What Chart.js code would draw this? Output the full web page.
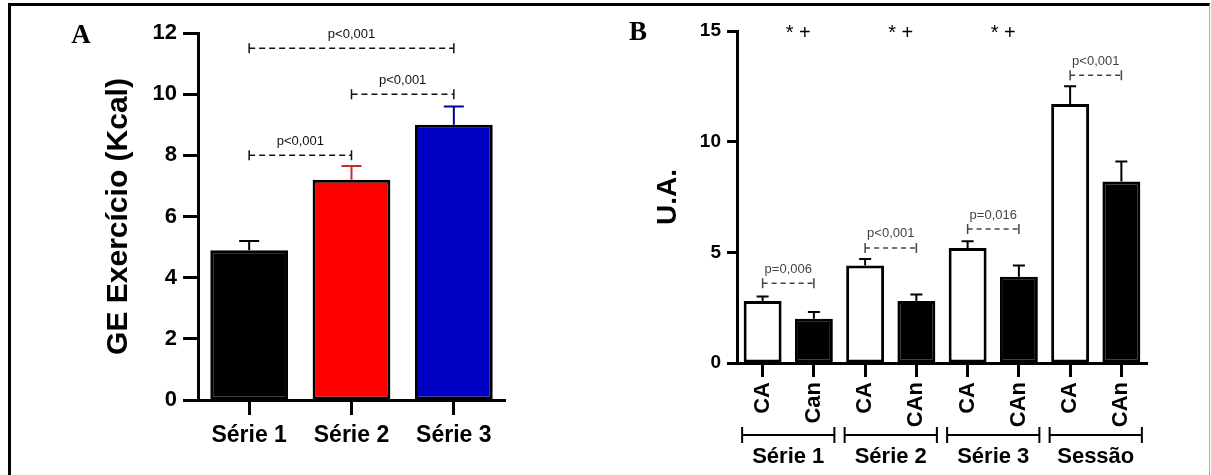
<!DOCTYPE html>
<html><head><meta charset="utf-8">
<script src="https://cdn.jsdelivr.net/npm/chart.js@4.4.1/dist/chart.umd.min.js"></script>
<style>
html,body{margin:0;padding:0;background:#fff;width:1211px;height:475px;overflow:hidden;}
#frame{position:absolute;left:8px;top:3px;width:1202px;height:472px;border-top:3px solid #000;border-left:3px solid #000;border-right:1px solid #aaa;box-sizing:border-box;}
#cA{position:absolute;left:0;top:0;}
#cB{position:absolute;left:600px;top:0;}
</style></head><body>
<div id="frame"></div>
<canvas id="cA" width="600" height="475"></canvas>
<canvas id="cB" width="611" height="475"></canvas>
<script>
// ---- Panel A data ----
const categoriesA = ['Série 1', 'Série 2', 'Série 3'];
const valuesA = [4.9, 7.2, 9.0];
const errorsA = [0.3, 0.45, 0.6];
const yTicksA = [0, 2, 4, 6, 8, 10, 12];
const bracketFromA = [0, 1, 0];
const bracketToA = [2, 2, 1];
const bracketLevelA = [11.5, 10, 8];
const bracketTextA = ['p<0,001', 'p<0,001', 'p<0,001'];

// ---- Panel B data ----
const barLabelsB = ['CA', 'Can', 'CA', 'CAn', 'CA', 'CAn', 'CA', 'CAn'];
const groupsB = ['Série 1', 'Série 2', 'Série 3', 'Sessão'];
const valuesCA = [2.8, 4.4, 5.2, 11.7];
const errorsCA = [0.2, 0.3, 0.3, 0.8];
const valuesCAn = [2.0, 2.8, 3.9, 8.2];
const errorsCAn = [0.3, 0.3, 0.5, 0.9];
const yTicksB = [0, 5, 10, 15];
const bracketLevelB = [3.6, 5.2, 6.05, 13.0];
const bracketTextB = ['p=0,006', 'p<0,001', 'p=0,016', 'p<0,001'];
const markTextB = ['* +', '* +', '* +', ''];

const FONT = "'Liberation Sans', Arial, sans-serif";

function errorBars(errs, colors, capW) {
  return {
    id: 'errbars',
    afterDatasetsDraw(chart) {
      const ctx = chart.ctx, y = chart.scales.y;
      const meta = chart.getDatasetMeta(0);
      const data = chart.data.datasets[0].data;
      meta.data.forEach((bar, i) => {
        const top = y.getPixelForValue(data[i] + errs[i]);
        ctx.save();
        ctx.strokeStyle = colors[i];
        ctx.lineWidth = 2;
        ctx.beginPath();
        ctx.moveTo(bar.x, bar.y);
        ctx.lineTo(bar.x, top);
        ctx.moveTo(bar.x - capW / 2, top);
        ctx.lineTo(bar.x + capW / 2, top);
        ctx.stroke();
        ctx.restore();
      });
    }
  };
}

function drawBracket(ctx, x1, x2, yy, text, color, dash) {
  ctx.save();
  ctx.strokeStyle = color;
  ctx.fillStyle = color;
  ctx.lineWidth = 1.5;
  ctx.setLineDash(dash);
  ctx.beginPath();
  ctx.moveTo(x1, yy); ctx.lineTo(x2, yy);
  ctx.stroke();
  ctx.setLineDash([]);
  ctx.beginPath();
  ctx.moveTo(x1, yy - 5); ctx.lineTo(x1, yy + 5);
  ctx.moveTo(x2, yy - 5); ctx.lineTo(x2, yy + 5);
  ctx.stroke();
  ctx.font = '13px ' + FONT;
  ctx.textAlign = 'center';
  ctx.textBaseline = 'middle';
  ctx.fillText(text, (x1 + x2) / 2, yy - 14);
  ctx.restore();
}

const fixTicks = (arr) => (scale) => { scale.ticks = arr.map(v => ({ value: v })); };

// ---------------- Chart A ----------------
new Chart(document.getElementById('cA'), {
  type: 'bar',
  data: {
    labels: categoriesA,
    datasets: [{
      data: valuesA,
      backgroundColor: ['#000000', '#ff0000', '#0000c4'],
      borderColor: '#000',
      borderWidth: 3,
      borderSkipped: false,
      barPercentage: 0.76,
      categoryPercentage: 1.0
    }]
  },
  options: {
    responsive: false,
    animation: false,
    events: [],
    layout: { padding: { left: 97, right: 95, top: 33, bottom: 0 } },
    plugins: { legend: { display: false }, tooltip: { enabled: false } },
    scales: {
      x: {
        offset: true,
        grid: { display: true, drawOnChartArea: false, drawTicks: true, offset: false, tickLength: 15, tickWidth: 3, tickColor: '#000' },
        border: { display: true, width: 3, color: '#000' },
        ticks: { color: '#000', font: { family: FONT, size: 23, weight: 'bold' }, padding: 7 },
        afterFit: (s) => { s.height = 75; }
      },
      y: {
        min: 0, max: 12,
        afterBuildTicks: fixTicks(yTicksA),
        grid: { display: true, drawOnChartArea: false, drawTicks: true, tickLength: 15, tickWidth: 3, tickColor: '#000' },
        border: { display: true, width: 3, color: '#000' },
        ticks: { color: '#000', font: { family: FONT, size: 22, weight: 'bold' }, padding: 6 },
        title: { display: true, text: 'GE Exercício (Kcal)', color: '#000', font: { family: FONT, size: 30, weight: 'bold' }, padding: { top: 4, bottom: 4 } },
        afterFit: (s) => { s.width = 101; }
      }
    }
  },
  plugins: [
    errorBars(errorsA, ['#000000', '#cc2a2a', '#00009a'], 20),
    {
      id: 'annA',
      afterDraw(chart) {
        const ctx = chart.ctx, x = chart.scales.x, y = chart.scales.y;
        for (let i = 0; i < bracketTextA.length; i++) {
          drawBracket(ctx, x.getPixelForValue(bracketFromA[i]), x.getPixelForValue(bracketToA[i]),
            y.getPixelForValue(bracketLevelA[i]), bracketTextA[i], '#111', [6, 4]);
        }
        ctx.save();
        ctx.font = "bold 27px 'Liberation Serif', 'Times New Roman', serif";
        ctx.fillStyle = '#000';
        ctx.textAlign = 'center';
        ctx.textBaseline = 'middle';
        ctx.fillText('A', 81, 36);
        ctx.restore();
      }
    }
  ]
});

// ---------------- Chart B ----------------
const valuesB = [], errorsB = [], fillB = [];
valuesCA.forEach((v, i) => {
  valuesB.push(valuesCA[i], valuesCAn[i]);
  errorsB.push(errorsCA[i], errorsCAn[i]);
  fillB.push('#ffffff', '#000000');
});

new Chart(document.getElementById('cB'), {
  type: 'bar',
  data: {
    labels: barLabelsB,
    datasets: [{
      data: valuesB,
      backgroundColor: fillB,
      borderColor: '#000',
      borderWidth: 3,
      borderSkipped: false,
      barPercentage: 0.74,
      categoryPercentage: 1.0
    }]
  },
  options: {
    responsive: false,
    animation: false,
    events: [],
    layout: { padding: { left: 47, right: 64, top: 31, bottom: 0 } },
    plugins: { legend: { display: false }, tooltip: { enabled: false } },
    scales: {
      x: {
        offset: true,
        grid: { display: true, drawOnChartArea: false, drawTicks: true, offset: false, tickLength: 14, tickWidth: 3, tickColor: '#000' },
        border: { display: true, width: 3, color: '#000' },
        ticks: { color: '#000', font: { family: FONT, size: 22, weight: 'bold' }, padding: 5, minRotation: 90, maxRotation: 90, autoSkip: false },
        afterFit: (s) => { s.height = 112; }
      },
      y: {
        min: 0, max: 15,
        afterBuildTicks: fixTicks(yTicksB),
        grid: { display: true, drawOnChartArea: false, drawTicks: true, tickLength: 10, tickWidth: 3, tickColor: '#000' },
        border: { display: true, width: 3, color: '#000' },
        ticks: { color: '#000', font: { family: FONT, size: 19, weight: 'bold' }, padding: 6 },
        title: { display: true, text: 'U.A.', color: '#000', font: { family: FONT, size: 28, weight: 'bold' }, padding: { top: 4, bottom: 4 } },
        afterFit: (s) => { s.width = 90; }
      }
    }
  },
  plugins: [
    errorBars(errorsB, new Array(8).fill('#000'), 12),
    {
      id: 'annB',
      afterDraw(chart) {
        const ctx = chart.ctx, x = chart.scales.x, y = chart.scales.y;
        const area = chart.chartArea;
        const catW = (x.getPixelForValue(1) - x.getPixelForValue(0));
        for (let g = 0; g < groupsB.length; g++) {
          const xa = x.getPixelForValue(2 * g), xb = x.getPixelForValue(2 * g + 1);
          drawBracket(ctx, xa, xb, y.getPixelForValue(bracketLevelB[g]), bracketTextB[g], '#444', [5, 4]);
          const cx = (xa + xb) / 2;
          const gy = area.bottom + 72;
          const l = cx - 0.9 * catW, r = cx + 0.9 * catW;
          ctx.save();
          ctx.strokeStyle = '#000';
          ctx.lineWidth = 2;
          ctx.beginPath();
          ctx.moveTo(l, gy); ctx.lineTo(r, gy);
          ctx.moveTo(l, gy - 8); ctx.lineTo(l, gy + 8);
          ctx.moveTo(r, gy - 8); ctx.lineTo(r, gy + 8);
          ctx.stroke();
          ctx.fillStyle = '#000';
          ctx.font = 'bold 22px ' + FONT;
          ctx.textAlign = 'center';
          ctx.textBaseline = 'middle';
          ctx.fillText(groupsB[g], cx, gy + 22);
          if (markTextB[g]) {
            ctx.font = '20px ' + FONT;
            ctx.fillText(markTextB[g], cx + 10, y.getPixelForValue(15) + 2);
          }
          ctx.restore();
        }
        ctx.save();
        ctx.font = "bold 27px 'Liberation Serif', 'Times New Roman', serif";
        ctx.fillStyle = '#000';
        ctx.textAlign = 'center';
        ctx.textBaseline = 'middle';
        ctx.fillText('B', 38, 33);
        ctx.restore();
      }
    }
  ]
});
</script>
</body></html>
